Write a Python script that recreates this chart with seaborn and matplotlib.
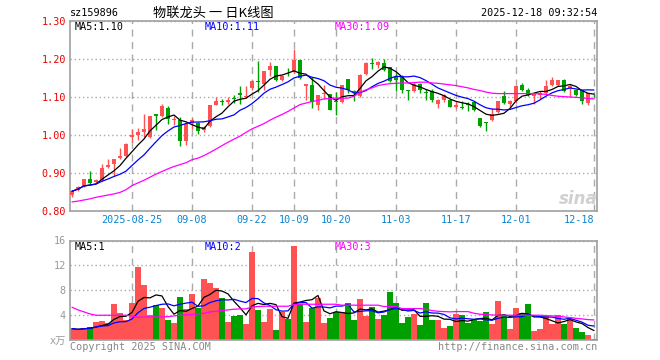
import matplotlib
matplotlib.use("Agg")
import numpy as np
import pandas as pd
import matplotlib.pyplot as plt
import seaborn as sns

# --- data (sz159896, daily K line) ---
open_p = [0.842, 0.855, 0.865, 0.885, 0.877, 0.882, 0.915, 0.923, 0.939, 0.944,
          0.994, 1.001, 1.009, 0.995, 1.056, 1.051, 1.072, 1.040, 1.040, 0.983,
          1.032, 1.032, 1.012, 1.025, 1.080, 1.089, 1.086, 1.098, 1.111, 1.100,
          1.124, 1.141, 1.134, 1.170, 1.181, 1.144, 1.167, 1.166, 1.198, 1.130,
          1.132, 1.078, 1.108, 1.109, 1.090, 1.088, 1.147, 1.116, 1.102, 1.161,
          1.189, 1.185, 1.189, 1.179, 1.154, 1.152, 1.118, 1.115, 1.134, 1.112,
          1.115, 1.082, 1.093, 1.093, 1.075, 1.074, 1.081, 1.086, 1.045, 1.033,
          1.039, 1.060, 1.102, 1.082, 1.090, 1.132, 1.119, 1.102, 1.106, 1.111,
          1.132, 1.132, 1.144, 1.125, 1.119, 1.118, 1.084, 1.106]
high_p = [0.855, 0.865, 0.884, 0.904, 0.884, 0.923, 0.938, 0.938, 0.966, 0.978,
          1.016, 1.019, 1.056, 1.051, 1.056, 1.082, 1.077, 1.051, 1.047, 1.033,
          1.044, 1.035, 1.025, 1.080, 1.100, 1.096, 1.100, 1.105, 1.130, 1.128,
          1.144, 1.196, 1.169, 1.191, 1.181, 1.159, 1.176, 1.225, 1.198, 1.133,
          1.153, 1.104, 1.132, 1.109, 1.112, 1.132, 1.147, 1.118, 1.160, 1.191,
          1.203, 1.196, 1.200, 1.179, 1.163, 1.159, 1.119, 1.139, 1.137, 1.121,
          1.121, 1.095, 1.107, 1.095, 1.089, 1.089, 1.086, 1.089, 1.045, 1.035,
          1.071, 1.090, 1.115, 1.093, 1.130, 1.137, 1.125, 1.111, 1.115, 1.144,
          1.152, 1.146, 1.148, 1.134, 1.121, 1.119, 1.111, 1.108]
low_p = [0.838, 0.853, 0.862, 0.872, 0.875, 0.880, 0.913, 0.891, 0.937, 0.942,
         0.981, 0.988, 0.996, 0.992, 1.012, 1.047, 1.028, 1.027, 0.972, 0.975,
         1.016, 1.002, 1.009, 1.021, 1.078, 1.079, 1.082, 1.084, 1.082, 1.097,
         1.119, 1.112, 1.119, 1.156, 1.141, 1.141, 1.156, 1.163, 1.147, 1.093,
         1.071, 1.067, 1.095, 1.065, 1.053, 1.084, 1.110, 1.089, 1.100, 1.159,
         1.174, 1.176, 1.168, 1.139, 1.115, 1.111, 1.093, 1.112, 1.111, 1.093,
         1.086, 1.071, 1.087, 1.073, 1.071, 1.068, 1.062, 1.064, 1.020, 1.010,
         1.036, 1.058, 1.082, 1.075, 1.084, 1.115, 1.102, 1.082, 1.095, 1.109,
         1.128, 1.130, 1.112, 1.100, 1.102, 1.082, 1.080, 1.100]
close_p = [0.852, 0.863, 0.883, 0.875, 0.882, 0.914, 0.920, 0.938, 0.944, 0.977,
           1.001, 1.009, 1.016, 1.051, 1.051, 1.077, 1.042, 1.042, 0.983, 1.030,
           1.039, 1.010, 1.022, 1.080, 1.089, 1.087, 1.093, 1.096, 1.105, 1.103,
           1.141, 1.139, 1.169, 1.181, 1.146, 1.154, 1.165, 1.198, 1.150, 1.133,
           1.086, 1.104, 1.111, 1.067, 1.088, 1.132, 1.119, 1.114, 1.159, 1.189,
           1.187, 1.191, 1.170, 1.141, 1.144, 1.119, 1.116, 1.135, 1.119, 1.110,
           1.091, 1.093, 1.104, 1.075, 1.080, 1.072, 1.079, 1.067, 1.025, 1.031,
           1.056, 1.090, 1.084, 1.089, 1.130, 1.118, 1.106, 1.108, 1.111, 1.130,
           1.144, 1.146, 1.115, 1.130, 1.104, 1.089, 1.111, 1.104]
# price MA30 as drawn (needs history before the window)
ma30_price = [0.824, 0.826, 0.829, 0.832, 0.836, 0.839, 0.842, 0.845, 0.849, 0.856,
              0.867, 0.874, 0.881, 0.889, 0.897, 0.904, 0.911, 0.917, 0.922, 0.927,
              0.935, 0.939, 0.946, 0.954, 0.963, 0.972, 0.981, 0.989, 0.997, 1.007,
              1.016, 1.023, 1.030, 1.039, 1.047, 1.054, 1.062, 1.071, 1.080, 1.084,
              1.088, 1.091, 1.095, 1.096, 1.097, 1.097, 1.097, 1.102, 1.112, 1.119,
              1.124, 1.130, 1.133, 1.135, 1.136, 1.137, 1.137, 1.138, 1.139, 1.139,
              1.137, 1.136, 1.134, 1.132, 1.130, 1.127, 1.124, 1.120, 1.117, 1.113,
              1.110, 1.109, 1.109, 1.109, 1.109, 1.109, 1.109, 1.109, 1.108, 1.107,
              1.104, 1.102, 1.101, 1.100, 1.099, 1.098, 1.096, 1.095]
# volume (x万)
volume = [1.83, 1.61, 1.99, 2.10, 2.90, 3.06, 2.69, 5.81, 4.35, 3.23,
          5.97, 11.77, 8.87, 4.03, 5.59, 5.16, 3.23, 2.74, 6.94, 5.00,
          7.42, 5.16, 9.84, 9.19, 8.39, 6.77, 2.90, 3.87, 4.03, 2.63,
          14.09, 4.84, 2.90, 5.00, 1.61, 4.52, 3.39, 15.16, 5.81, 2.90,
          5.16, 6.77, 2.74, 3.55, 4.52, 4.52, 5.97, 3.23, 6.61, 3.87,
          5.32, 3.39, 4.03, 7.74, 5.97, 2.74, 3.71, 4.19, 2.42, 5.97,
          3.23, 3.23, 1.94, 2.26, 4.19, 4.03, 2.74, 3.23, 3.06, 4.52,
          2.58, 6.29, 3.87, 1.77, 5.16, 4.35, 5.81, 1.45, 1.77, 3.87,
          2.58, 4.03, 2.58, 3.39, 1.94, 1.29, 0.81, 0.16]
ma30_vol = [5.27, 4.84, 4.52, 4.19, 3.98, 3.98, 3.98, 3.98, 3.98, 3.98,
            3.87, 3.66, 3.70, 3.70, 3.70, 3.72, 3.75, 3.87, 3.98, 4.03,
            4.09, 4.19, 4.30, 4.52, 4.62, 4.73, 4.84, 4.95, 5.00, 5.00,
            5.32, 5.38, 5.43, 5.43, 5.43, 5.43, 5.43, 5.70, 5.75, 5.75,
            5.75, 5.75, 5.75, 5.75, 5.75, 5.60, 5.60, 5.60, 5.60, 5.60,
            5.60, 5.60, 5.38, 5.38, 5.38, 5.05, 5.05, 5.05, 5.05, 4.95,
            4.73, 4.62, 4.57, 4.52, 4.57, 4.57, 4.57, 4.30, 4.14, 4.09,
            4.03, 3.98, 3.98, 3.98, 3.98, 3.98, 3.98, 3.98, 3.98, 3.92,
            3.87, 3.82, 3.71, 3.60, 3.49, 3.39, 3.28, 3.23]

tick_dates = ["2025-08-25", "2025-09-08", "2025-09-22", "2025-10-09", "2025-10-20",
              "2025-11-03", "2025-11-17", "2025-12-01", "2025-12-18"]
tick_labels = ["2025-08-25", "09-08", "09-22", "10-09", "10-20",
               "11-03", "11-17", "12-01", "12-18"]

RED = "#ff5252"
GREEN = "#00a000"
GRIDC = "#aaaaaa"

dates = pd.bdate_range("2025-08-11", "2025-12-18")
dates = dates[~((dates >= "2025-10-01") & (dates <= "2025-10-08"))]
df = pd.DataFrame({"date": dates, "open": open_p, "high": high_p, "low": low_p,
                   "close": close_p, "vol": volume,
                   "ma30": ma30_price, "vma30": ma30_vol})
df["i"] = np.arange(len(df))
df["dir"] = np.where(df["close"] >= df["open"], "up", "down")
df["ma5"] = df["close"].rolling(5, min_periods=1).mean()
df["ma10"] = df["close"].rolling(10, min_periods=1).mean()
df["vma5"] = df["vol"].rolling(5, min_periods=1).mean()
df["vma10"] = df["vol"].rolling(10, min_periods=1).mean()
tick_idx = [df.index[df["date"] == pd.Timestamp(d)][0] for d in tick_dates]

sns.set_style("white")
plt.rcParams["font.family"] = ["DejaVu Sans Mono", "Noto Sans CJK SC"]

W, H = 660, 360
fig = plt.figure(figsize=(6.6, 3.6), dpi=100)
ax = fig.add_axes([70 / W, 1 - 211 / H, 527 / W, 190 / H])
axv = fig.add_axes([70 / W, 1 - 340 / H, 527 / W, 99.5 / H])

xlim = (-0.33, 87.5)
cols = df["dir"].map({"up": RED, "down": GREEN})
LW = 0.9

# --- main K line panel ---
ax.vlines(df["i"], df["low"], df["high"], colors=cols, lw=1, zorder=2)
body = (df["close"] - df["open"]).abs().clip(lower=0.0015)
ax.bar(df["i"], body, bottom=df[["open", "close"]].min(axis=1), width=0.75,
       color=cols, linewidth=0, zorder=3)
sns.lineplot(x=df["i"], y=df["ma5"], color="black", lw=LW, ax=ax, zorder=4)
sns.lineplot(x=df["i"], y=df["ma10"], color="#0000ff", lw=LW, ax=ax, zorder=4)
sns.lineplot(x=df["i"], y=df["ma30"], color="#ff00ff", lw=LW, ax=ax, zorder=4)
ax.set_xlim(xlim)
ax.set_ylim(0.80, 1.30)
ax.set_yticks(np.arange(0.80, 1.301, 0.10))
ax.set_yticklabels([f"{v:.2f}" for v in np.arange(0.80, 1.301, 0.10)])
ax.set_xticks(tick_idx)
ax.set_xticklabels(tick_labels)
ax.tick_params(axis="y", length=0, pad=3, labelsize=7.3, labelcolor="#ee0000")
ax.tick_params(axis="x", length=0, pad=3, labelsize=7.3, labelcolor="#0a84d0")
ax.get_xticklabels()[-1].set_horizontalalignment("right")
ax.grid(axis="y", ls=(0, (1, 2)), color=GRIDC, lw=1, zorder=0)
ax.grid(axis="x", ls=(0, (5, 4)), color=GRIDC, lw=1, zorder=0)
ax.set_axisbelow(True)
ax.set_xlabel("")
ax.set_ylabel("")
ax.text(84.3, 0.832, "sina", fontsize=12, fontstyle="italic", fontweight="bold",
        color="#d0d0d0", family="DejaVu Sans", ha="center", va="center", zorder=1)

# --- volume panel ---
sns.barplot(data=df, x="i", y="vol", hue="dir", palette={"up": RED, "down": GREEN},
            dodge=False, native_scale=True, width=0.85, errorbar=None, legend=False,
            saturation=1, linewidth=0, ax=axv, zorder=2)
sns.lineplot(x=df["i"], y=df["vma5"], color="black", lw=LW, ax=axv, zorder=4)
sns.lineplot(x=df["i"], y=df["vma10"], color="#0000ff", lw=LW, ax=axv, zorder=4)
sns.lineplot(x=df["i"], y=df["vma30"], color="#ff00ff", lw=LW, ax=axv, zorder=4)
axv.set_xlim(xlim)
axv.set_ylim(0, 16)
axv.set_yticks([0, 4, 8, 12, 16])
axv.set_yticklabels(["x万", "4", "8", "12", "16"])
axv.set_xticks(tick_idx)
axv.set_xticklabels([])
axv.tick_params(axis="both", length=0, pad=3, labelsize=7.3, labelcolor="#999999")
axv.grid(axis="y", ls=(0, (1, 2)), color=GRIDC, lw=1, zorder=0)
axv.grid(axis="x", ls=(0, (5, 4)), color=GRIDC, lw=1, zorder=0)
axv.set_axisbelow(True)
axv.set_xlabel("")
axv.set_ylabel("")

for a in (ax, axv):
    for s in a.spines.values():
        s.set_color("#a0a0a0")
        s.set_linewidth(1.2)
        s.set_visible(True)

# --- texts ---
def ftext(x, y, s, **kw):
    fig.text(x / W, 1 - y / H, s, va="center", **kw)

ftext(70, 13, "sz159896", fontsize=7.3, color="black")
ftext(213, 13, "物联龙头 一 日K线图", fontsize=9.5, color="black", ha="center",
      family=["Noto Sans CJK SC", "DejaVu Sans"])
ftext(597, 13, "2025-12-18 09:32:54", fontsize=7.3, color="black", ha="right")
ftext(75, 27, "MA5:1.10", fontsize=7.3, color="black")
ftext(205, 27, "MA10:1.11", fontsize=7.3, color="#0000ff")
ftext(335, 27, "MA30:1.09", fontsize=7.3, color="#ff00ff")
ftext(75, 247, "MA5:1", fontsize=7.3, color="black")
ftext(205, 247, "MA10:2", fontsize=7.3, color="#0000ff")
ftext(335, 247, "MA30:3", fontsize=7.3, color="#ff00ff")
ftext(70, 347, "Copyright 2025 SINA.COM", fontsize=7.3, color="#888888")
ftext(597, 347, "http://finance.sina.com.cn", fontsize=7.3, color="#888888", ha="right")

fig.savefig("out.png", dpi=100)
